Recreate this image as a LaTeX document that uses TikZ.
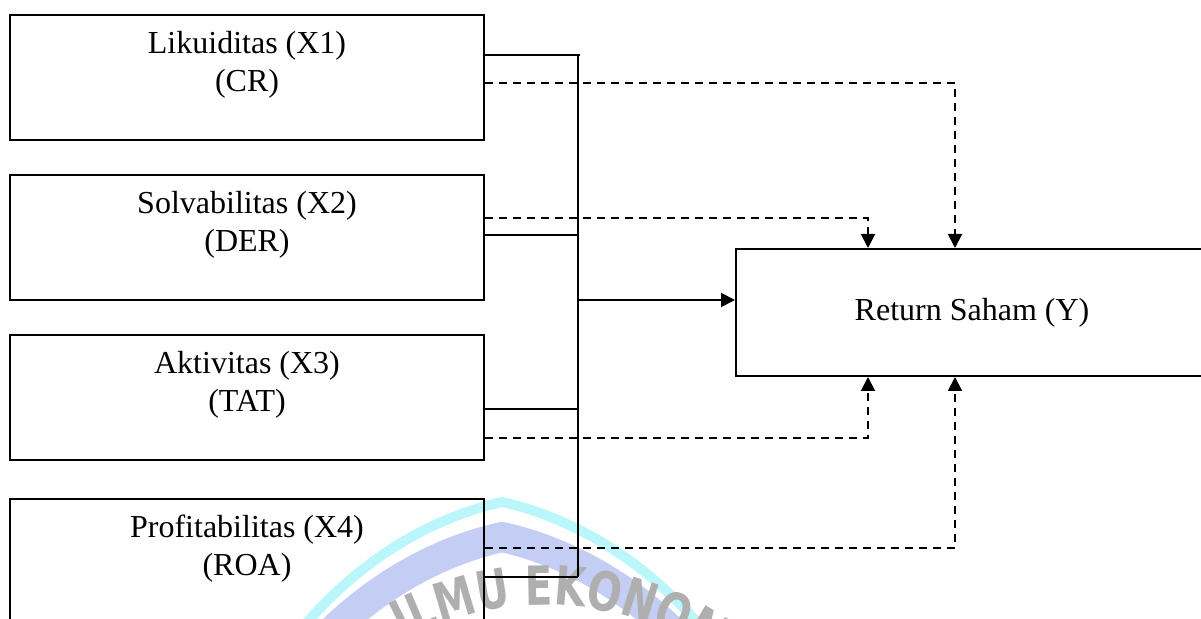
\documentclass[tikz,border=0pt]{standalone}
\usepackage{fontspec}
\setmainfont{Liberation Serif}
\newfontfamily\wmfont[FakeStretch=0.75]{DejaVu Sans}
\usetikzlibrary{arrows.meta,calc,decorations.text}

\definecolor{wmcyan}{RGB}{186,246,250}
\definecolor{wmlav}{RGB}{196,205,243}
\definecolor{wmgrey}{RGB}{175,175,175}

\begin{document}
\begin{tikzpicture}[x=0.5pt, y=-0.5pt,
  box/.style={draw, line width=1pt, inner sep=0pt,
              minimum width=237pt, minimum height=62.5pt},
  lbl/.style={anchor=base, inner sep=0pt, font=\fontsize{16}{18.4}\selectfont},
  wire/.style={line width=1pt},
  dashline/.style={line width=1pt, dash pattern=on 4pt off 3pt},
  tip/.style={-{Triangle[length=7pt,width=7pt]}},
]
\clip (0,0) rectangle (1201,619);

% faint logo behind the diagram
\draw[wmcyan, line width=5pt, line join=miter]
  (264,680) .. controls (344,555) and (444,515) .. (502,502)
            .. controls (560,515) and (660,555) .. (740,680);
\draw[wmlav, line width=15pt, line join=round]
  (264,715) .. controls (344,590) and (444,550) .. (502,537)
            .. controls (560,550) and (660,590) .. (740,715);
\coordinate (wc) at (545,905);
\path[decorate, decoration={text along path, text align=center,
      text={|\wmfont\bfseries\fontsize{27}{27}\selectfont|ILMU EKONOMI},
      text color=wmgrey}]
  ($(wc)+(200:300)$) arc[start angle=200, end angle=349.6, radius=300];

% independent variables
\node[box] (x1) at (247,77.5) {};
\node[lbl] (x1a) at (247,53.5) {Likuiditas (X1)};
\node[lbl] (x1b) at (247,92) {(CR)};

\node[box] (x2) at (247,238) {};
\node[lbl] (x2a) at (247,214) {Solvabilitas (X2)};
\node[lbl] (x2b) at (247,252) {(DER)};

\node[box] (x3) at (247,398) {};
\node[lbl] (x3a) at (247,374) {Aktivitas (X3)};
\node[lbl] (x3b) at (247,412) {(TAT)};

\node[box] (x4) at (247,561.5) {};
\node[lbl] (x4a) at (247,538) {Profitabilitas (X4)};
\node[lbl] (x4b) at (247,576) {(ROA)};

% dependent variable
\node[box, minimum width=236pt, minimum height=63.5pt,
      font=\fontsize{16}{18.4}\selectfont] (y) at (972,312.5) {Return Saham (Y)};

% simultaneous effect: collecting bus
\coordinate (b1) at (578,55);
\coordinate (b2) at (578,235);
\coordinate (bm) at (578,300);
\coordinate (b3) at (578,409);
\coordinate (b4) at (578,577);
\draw[wire] (x1.east |- b1) -- ([xshift=1pt]b1);
\draw[wire] (b1) -- (b4);
\draw[wire] (x2.east |- b2) -- (b2);
\draw[wire] (x3.east |- b3) -- (b3);
\draw[wire] (x4.east |- b4) -- (b4);
\draw[wire, tip] (bm) -- (y.west |- bm);

% partial effects
\coordinate (d1) at (955,83);
\coordinate (d2) at (868,218);
\coordinate (d3) at (868,438);
\coordinate (d4) at (955,548);
\draw[dashline, tip] (x1.east |- d1) -- (d1) -- (d1 |- y.north);
\draw[dashline, tip] (x2.east |- d2) -- (d2) -- (d2 |- y.north);
\draw[dashline, tip] (x3.east |- d3) -- (d3) -- (d3 |- y.south);
\draw[dashline, tip] (x4.east |- d4) -- (d4) -- (d4 |- y.south);
\end{tikzpicture}
\end{document}
